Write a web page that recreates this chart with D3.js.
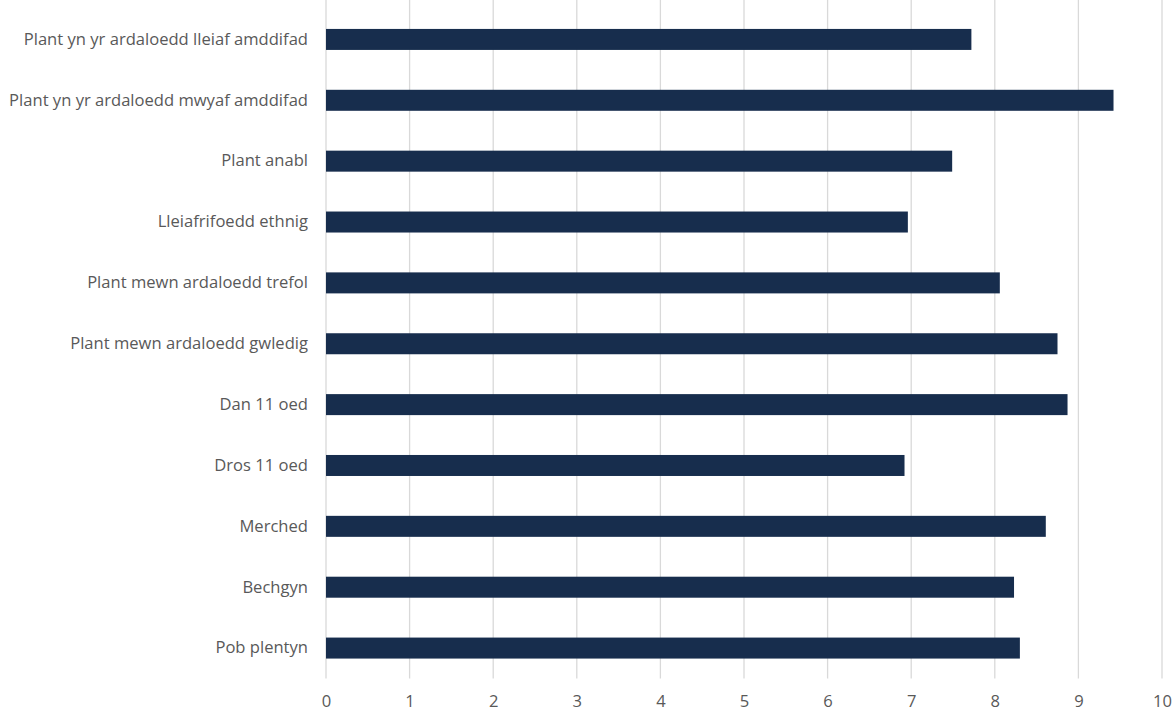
<!DOCTYPE html>
<html>
<head>
<meta charset="utf-8">
<script src="https://cdn.jsdelivr.net/npm/d3@7"></script>
<style>
  html, body { margin: 0; padding: 0; background: #ffffff; }
  svg { display: block; }
  text { font-family: "Open Sans", Lato, sans-serif; fill: #595959; }
</style>
</head>
<body>
<svg id="chart" width="1176" height="713"></svg>
<script>
const categories = [
  "Plant yn yr ardaloedd lleiaf amddifad",
  "Plant yn yr ardaloedd mwyaf amddifad",
  "Plant anabl",
  "Lleiafrifoedd ethnig",
  "Plant mewn ardaloedd trefol",
  "Plant mewn ardaloedd gwledig",
  "Dan 11 oed",
  "Dros 11 oed",
  "Merched",
  "Bechgyn",
  "Pob plentyn"
];
const values = [7.72, 9.42, 7.49, 6.96, 8.06, 8.75, 8.87, 6.92, 8.61, 8.23, 8.30];
const xTicks = [0, 1, 2, 3, 4, 5, 6, 7, 8, 9, 10];

(function () {
const svg = d3.select("#chart");
const mLeft = 326, mRight = 1162, mTop = 9, mBottom = 678.5;
const fontFam = "'Open Sans', Lato, sans-serif";

const x = d3.scaleLinear().domain([0, 10]).range([mLeft, mRight]);
const y = d3.scaleBand().domain(categories).range([mTop, mBottom]).paddingInner(0.655).paddingOuter(0.3275);

// gridlines
svg.append("g")
  .selectAll("line")
  .data(xTicks)
  .join("line")
  .attr("x1", d => x(d)).attr("x2", d => x(d))
  .attr("y1", 0).attr("y2", mBottom)
  .attr("stroke", "#d9d9d9").attr("stroke-width", 1.3);

// bars
svg.append("g")
  .selectAll("rect")
  .data(categories)
  .join("rect")
  .attr("x", x(0))
  .attr("y", d => y(d))
  .attr("width", (d, i) => x(values[i]) - x(0))
  .attr("height", y.bandwidth())
  .attr("fill", "#172d4d");

// measure the longest label to fit the reference width
const probe = svg.append("text").style("font-family", fontFam).style("font-size", "15px")
  .text(categories[1]);
const w15 = probe.node().getComputedTextLength();
probe.remove();
const fs = Math.min(18, 15 * 299 / w15);

// y axis labels
const yAxis = d3.axisLeft(y).tickSize(0).tickPadding(18);
const gy = svg.append("g").attr("transform", `translate(${mLeft},0)`).call(yAxis);
gy.select(".domain").remove();
gy.selectAll("text").style("font-size", fs + "px").style("font-family", fontFam).attr("fill", "#595959");

// x axis labels
const xAxis = d3.axisBottom(x).tickValues(xTicks).tickSize(0).tickPadding(17).tickFormat(d3.format("d"));
const gx = svg.append("g").attr("transform", `translate(0,${mBottom})`).call(xAxis);
gx.select(".domain").remove();
gx.selectAll("text").style("font-size", fs + "px").style("font-family", fontFam).attr("fill", "#595959");
})();
</script>
</body>
</html>
